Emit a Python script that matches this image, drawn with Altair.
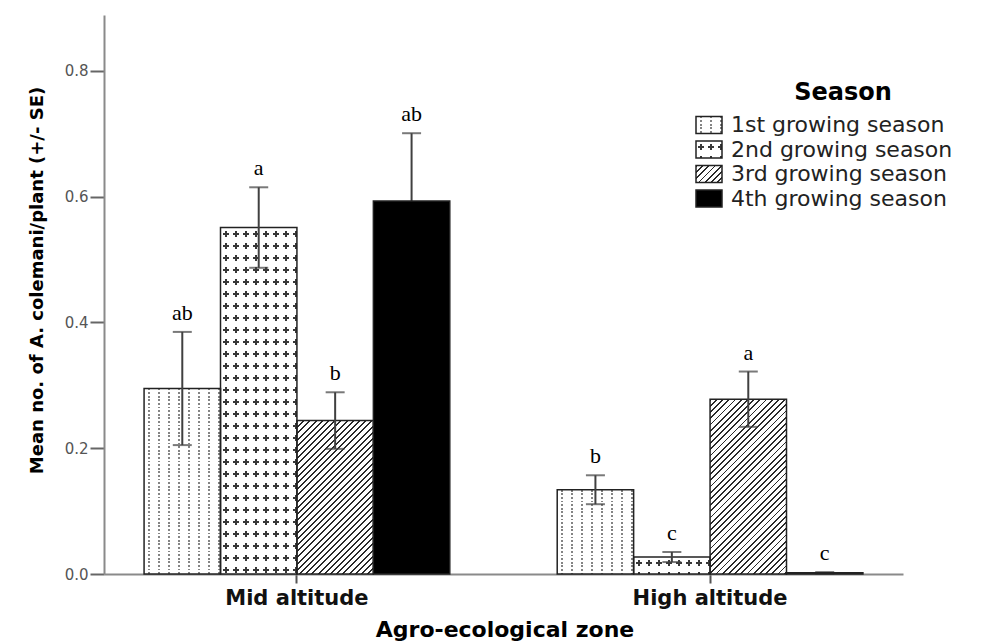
import altair as alt
import pandas as pd

# ---- data -------------------------------------------------------------
zones = ["Mid altitude", "High altitude"]
seasons = ["1st growing season", "2nd growing season",
           "3rd growing season", "4th growing season"]
mean_mid = [0.295, 0.551, 0.244, 0.593]
se_mid = [0.090, 0.064, 0.045, 0.108]
mean_high = [0.134, 0.027, 0.278, 0.002]
se_high = [0.023, 0.008, 0.044, 0.001]
letters_mid = ["ab", "a", "b", "ab"]
letters_high = ["b", "c", "a", "c"]

df = pd.DataFrame({
    "zone": [z for z in zones for _ in seasons],
    "season": seasons * 2,
    "mean": mean_mid + mean_high,
    "se": se_mid + se_high,
    "letter": letters_mid + letters_high,
})

# ---- layout -----------------------------------------------------------
W, H = 799, 559
Y_MAX = 0.889
PAD_INNER, PAD_OUTER = 0.26, 0.097
STEP = W / (len(zones) - PAD_INNER + 2 * PAD_OUTER)
BAR_W = STEP * (1 - PAD_INNER) / len(seasons)

SANS = "DejaVu Sans"
SERIF = "Liberation Serif"
CLEAR = "rgba(255,255,255,0)"
WHITE = "#ffffff"


# ---- hatch fills built from hard-edged linear gradients -----------------
def band_stops(length, period, start, stop, ink, paper):
    """Stripes of `ink` from start..stop (px) in every period along `length` px."""
    stops = [{"offset": 0.0, "color": paper}]
    k = -1
    while k * period + start < length:
        a = (k * period + start) / length
        b = (k * period + stop) / length
        k += 1
        if b <= 0:
            continue
        a, b = max(a, stops[-1]["offset"]), min(b, 1.0)
        stops += [{"offset": round(a, 5), "color": paper},
                  {"offset": round(a, 5), "color": ink},
                  {"offset": round(b, 5), "color": ink},
                  {"offset": round(b, 5), "color": paper}]
    stops.append({"offset": 1.0, "color": paper})
    return stops


def grad_x(stops):
    return {"gradient": "linear", "x1": 0, "y1": 0, "x2": 1, "y2": 0, "stops": stops}


def grad_y(stops):
    return {"gradient": "linear", "x1": 0, "y1": 0, "x2": 0, "y2": 1, "stops": stops}


def grad_diag(w, h, stops):
    # isolines x + y = const inside a w*h box  ->  "/" hatching at 45 degrees
    k = (w + h) / (w * w + h * h)
    return {"gradient": "linear", "x1": 0, "y1": 0,
            "x2": round(w * k, 5), "y2": round(h * k, 5), "stops": stops}


def pattern_fills(idx, w, h):
    h = max(h, 1.0)
    if idx == 0:      # vertical dotted lines
        return [grad_x(band_stops(w, 10, 4.1, 5.9, "#848484", WHITE)),
                grad_y(band_stops(h, 3.6, 1.9, 3.6, WHITE, CLEAR))]
    if idx == 1:      # small crosses
        ink = "#383838"
        return [grad_x(band_stops(w, 10, 4.0, 6.0, ink, WHITE)),
                grad_y(band_stops(h, 12, 9.0, 15.0, WHITE, CLEAR)),
                grad_y(band_stops(h, 12, 5.0, 7.0, ink, CLEAR)),
                grad_x(band_stops(w, 10, 8.0, 12.0, WHITE, CLEAR))]
    if idx == 2:      # diagonal hatching
        return [grad_diag(w, h, band_stops(w + h, 6.2, 0, 1.9, "#2a2a2a", WHITE))]
    return ["#000000"]


# ---- encodings --------------------------------------------------------
x_axis = alt.Axis(
    title="Agro-ecological zone", labelAngle=0, labelFont=SANS, labelFontSize=21,
    labelFontWeight="bold", labelColor="#111111", labelPadding=4,
    tickSize=9, tickWidth=2, tickColor="#555555",
    domainColor="#8a8a8a", domainWidth=2,
    titleFont=SANS, titleFontSize=22, titleFontWeight="bold", titleColor="#000000",
    titleX=W / 2 + 1, titleY=62, titleBaseline="alphabetic")
y_axis = alt.Axis(
    title="Mean no. of A. colemani/plant (+/- SE)", values=[0, 0.2, 0.4, 0.6, 0.8],
    format=".1f", grid=False, labelFont=SANS, labelFontSize=15, labelColor="#555555",
    labelPadding=2, tickSize=14, tickWidth=2, tickColor="#666666",
    domainColor="#8a8a8a", domainWidth=2,
    titleFont=SANS, titleFontSize=18, titleFontWeight="bold", titleColor="#000000",
    titleAngle=270, titleX=-62, titleY=265, titleAlign="center", titleBaseline="alphabetic")
y_scale = alt.Scale(domain=[0, Y_MAX], nice=False, zero=True)

x_enc = alt.X("zone:N", sort=zones, axis=x_axis,
              scale=alt.Scale(paddingInner=PAD_INNER, paddingOuter=PAD_OUTER))
xo_enc = alt.XOffset("season:N", sort=seasons,
                     scale=alt.Scale(paddingInner=0, paddingOuter=0))


def y_enc(field):
    return alt.Y(field, scale=y_scale, axis=y_axis)


base = alt.Chart(df).transform_calculate(
    lo="datum.mean - datum.se", hi="datum.mean + datum.se")

layers = []

# patterned bars (seasons 1-3)
for z, means in zip(zones, [mean_mid, mean_high]):
    for j, s in enumerate(seasons[:3]):
        h = means[j] / Y_MAX * H
        for f in pattern_fills(j, BAR_W, h):
            layers.append(
                base.transform_filter(f"datum.zone === '{z}' && datum.season === '{s}'")
                .mark_bar(fill=f, strokeWidth=0)
                .encode(x=x_enc, xOffset=xo_enc, y=y_enc("mean:Q")))

# outlines
layers.append(
    base.transform_filter(f"datum.season !== '{seasons[3]}'")
    .mark_bar(fill="transparent", stroke="#222222", strokeWidth=1.5)
    .encode(x=x_enc, xOffset=xo_enc, y=y_enc("mean:Q")))

# error bars
ERR = "#404040"
layers.append(base.mark_rule(color=ERR, strokeWidth=2)
              .encode(x=x_enc, xOffset=xo_enc, y=y_enc("lo:Q"), y2="hi:Q"))
for fld in ["lo:Q", "hi:Q"]:
    layers.append(base.mark_tick(color=ERR, thickness=2, size=19, orient="horizontal")
                  .encode(x=x_enc, xOffset=xo_enc, y=y_enc(fld)))

# solid black bars (season 4)
layers.append(
    base.transform_filter(f"datum.season === '{seasons[3]}'")
    .mark_bar(fill="#000000", stroke="#222222", strokeWidth=1.5)
    .encode(x=x_enc, xOffset=xo_enc, y=y_enc("mean:Q")))

# significance letters
layers.append(
    base.mark_text(font=SERIF, fontSize=22, baseline="alphabetic", dy=-12, color="#000000")
    .encode(x=x_enc, xOffset=xo_enc, y=y_enc("hi:Q"), text="letter:N"))

# ---- legend -----------------------------------------------------------
leg = pd.DataFrame({"season": seasons})
LX, LW, LH = 592, 26, 17
rows = [110, 134.5, 159, 183.5]

layers.append(
    alt.Chart(leg).transform_filter(f"datum.season === '{seasons[0]}'")
    .mark_text(text="Season", font=SANS, fontSize=24, fontWeight="bold",
               align="center", baseline="middle", color="#000000")
    .encode(x=alt.value(739), y=alt.value(78)))

for j, s in enumerate(seasons):
    cy = rows[j]
    one = alt.Chart(leg).transform_filter(f"datum.season === '{s}'")
    for f in pattern_fills(j, LW, LH):
        layers.append(one.mark_rect(fill=f).encode(
            x=alt.value(LX), x2=alt.value(LX + LW),
            y=alt.value(cy - LH / 2), y2=alt.value(cy + LH / 2)))
    layers.append(one.mark_rect(fill="transparent", stroke="#222222", strokeWidth=1.5).encode(
        x=alt.value(LX), x2=alt.value(LX + LW),
        y=alt.value(cy - LH / 2), y2=alt.value(cy + LH / 2)))
    layers.append(one.mark_text(font=SANS, fontSize=22, align="left", baseline="middle",
                                color="#222222")
                  .encode(x=alt.value(LX + 35), y=alt.value(cy), text="season:N"))

chart = alt.layer(*layers).properties(
    width=W, height=H,
    autosize=alt.AutoSizeParams(type="none"),
    padding={"left": 104, "top": 15, "right": 84, "bottom": 68},
    background="#ffffff",
).configure_view(strokeWidth=0)

chart.save("out.html", embed_options={"renderer": "svg", "actions": False})
